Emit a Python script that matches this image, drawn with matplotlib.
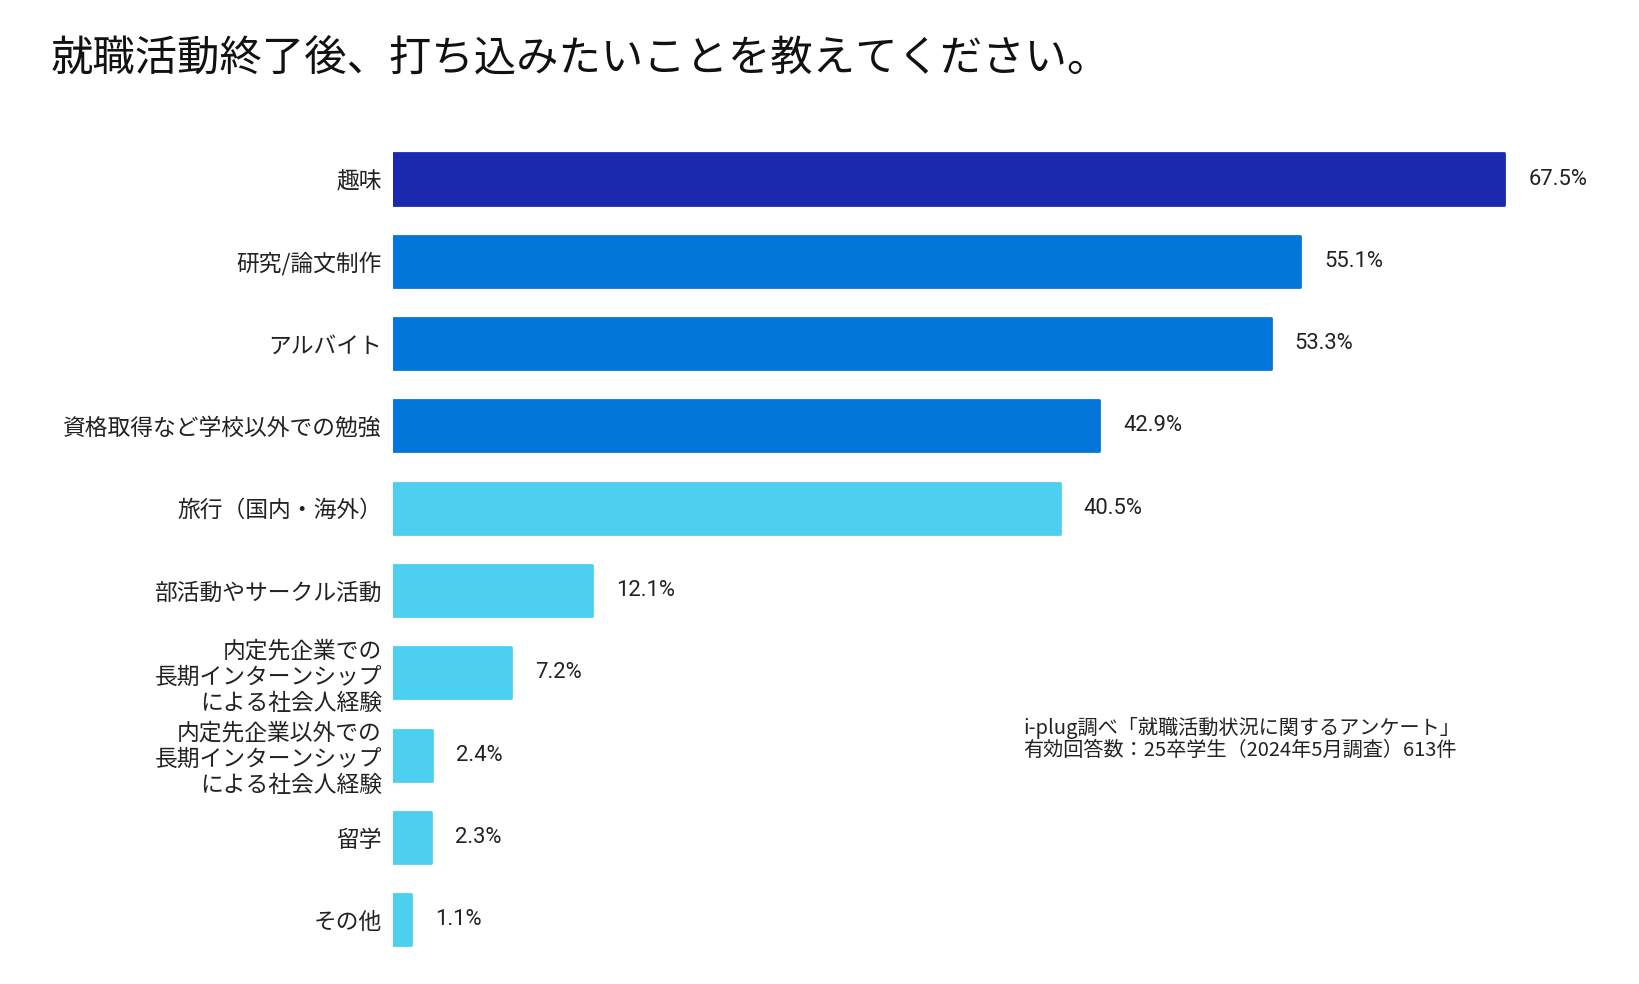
import matplotlib
matplotlib.use("Agg")
import matplotlib.pyplot as plt

plt.rcParams['font.family'] = ['Noto Sans CJK JP', 'DejaVu Sans']

# data
categories = [
    "趣味",
    "研究/論文制作",
    "アルバイト",
    "資格取得など学校以外での勉強",
    "旅行（国内・海外）",
    "部活動やサークル活動",
    "内定先企業での\n長期インターンシップ\nによる社会人経験",
    "内定先企業以外での\n長期インターンシップ\nによる社会人経験",
    "留学",
    "その他",
]
values = [67.5, 55.1, 53.3, 42.9, 40.5, 12.1, 7.2, 2.4, 2.3, 1.1]
colors = ["#1a29ae", "#0277d9", "#0277d9", "#0277d9",
          "#4dd0ef", "#4dd0ef", "#4dd0ef", "#4dd0ef", "#4dd0ef", "#4dd0ef"]

title = "就職活動終了後、打ち込みたいことを教えてください。"
note = "i-plug調べ「就職活動状況に関するアンケート」\n有効回答数：25卒学生（2024年5月調査）613件"

fig = plt.figure(figsize=(16.4, 9.84), dpi=100)
ax = fig.add_axes([0.2396, 0.0234, 0.753, 0.8365])

y = list(range(len(categories)))
ax.barh(y, values, height=0.62, color=colors, edgecolor=colors,
        linewidth=2, joinstyle='round')

for i, v in enumerate(values):
    ax.text(v + 1.45, i, f"{v}%", va='center', ha='left', fontsize=15.8,
            color='#222222', family=['Roboto', 'DejaVu Sans'])

ax.set_yticks(y)
ax.set_yticklabels(categories, fontsize=16.4, color='#222222', linespacing=1.18)
ax.tick_params(axis='y', length=0, pad=8)
ax.set_xticks([])
ax.set_ylim(len(categories) - 0.5, -0.5)
ax.set_xlim(0, 75)
for s in ax.spines.values():
    s.set_visible(False)

fig.text(0.031, 0.94, title, fontsize=30.5, color='#111111', va='center', ha='left')
fig.text(0.624, 0.249, note, fontsize=14.5, color='#222222', va='center', ha='left',
         linespacing=1.1)

fig.savefig("out.png", dpi=100, facecolor='white')
